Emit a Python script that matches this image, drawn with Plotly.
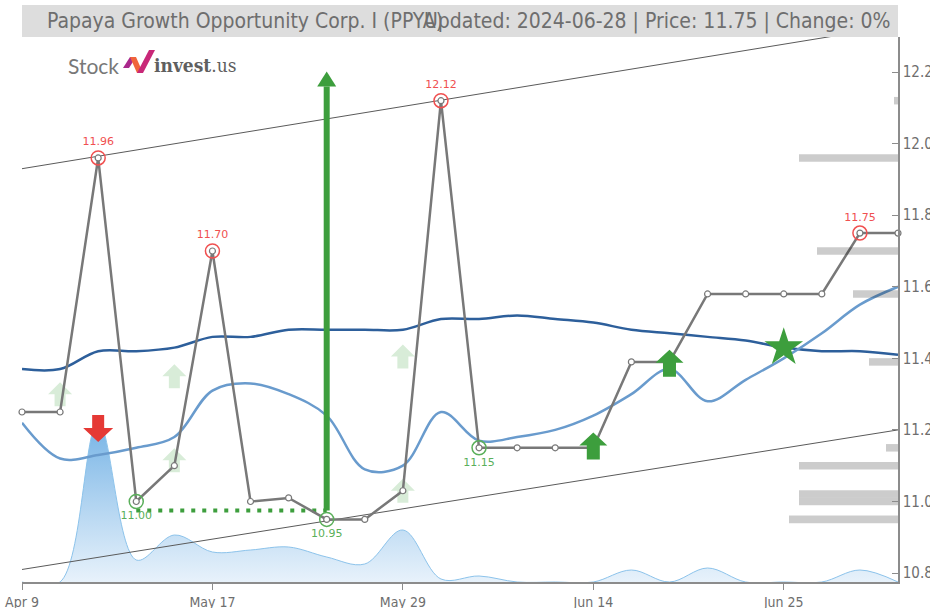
import plotly.graph_objects as go

# ---------------- data ----------------
dates = ["2024-04-09", "2024-04-17", "2024-04-25", "2024-05-03", "2024-05-10", "2024-05-17",
         "2024-05-20", "2024-05-22", "2024-05-24", "2024-05-28", "2024-05-29", "2024-06-03",
         "2024-06-05", "2024-06-07", "2024-06-11", "2024-06-14", "2024-06-17", "2024-06-18",
         "2024-06-20", "2024-06-21", "2024-06-25", "2024-06-26", "2024-06-27", "2024-06-28"]
tick_dates = ["2024-04-09", "2024-05-17", "2024-05-29", "2024-06-14", "2024-06-25"]
tick_labels = ["Apr 9", "May 17", "May 29", "Jun 14", "Jun 25"]

price = [11.25, 11.25, 11.96, 11.00, 11.10, 11.70, 11.00, 11.01, 10.95, 10.95, 11.03, 12.12,
         11.15, 11.15, 11.15, 11.15, 11.39, 11.39, 11.58, 11.58, 11.58, 11.58, 11.75, 11.75]
ma_long = [11.37, 11.37, 11.42, 11.42, 11.43, 11.46, 11.46, 11.48, 11.48, 11.48, 11.48, 11.51,
           11.51, 11.52, 11.51, 11.50, 11.48, 11.47, 11.46, 11.45, 11.43, 11.42, 11.42, 11.41]
ma_short = [11.22, 11.12, 11.13, 11.15, 11.18, 11.31, 11.33, 11.30, 11.24, 11.09, 11.10, 11.25,
            11.17, 11.18, 11.20, 11.24, 11.30, 11.37, 11.28, 11.34, 11.40, 11.47, 11.55, 11.60]
volume = [0, 0, 16000, 2200, 4700, 3000, 3200, 3500, 2500, 1800, 5200, 300,
          600, 0, 0, 0, 1200, 0, 1400, 0, 0, 0, 1200, 0]

high_idx = [2, 5, 11, 22]
low_idx = [3, 8, 12]

trend_upper = [11.93, 12.33]
trend_lower = [10.81, 11.20]

support_level = 10.975
support_span = [3, 8]

signal_idx = 8
signal_from = 10.975
signal_to = 12.16

buy_idx = [15, 17]
buy_val = [11.155, 11.386]
sell_idx = [2]
sell_val = [11.204]
weak_idx = [1, 4, 4, 10, 10]
weak_val = [11.30, 11.35, 11.115, 11.405, 11.03]
star_idx = [20]
star_val = [11.43]

profile_price = [12.12, 11.96, 11.70, 11.58, 11.39, 11.15, 11.10, 11.021, 11.00, 10.95]
profile_vol = [400, 9900, 8100, 4500, 2900, 1200, 9900, 9900, 9900, 10900]

title_left = "Papaya Growth Opportunity Corp. I (PPYA)"
title_right = "Updated: 2024-06-28 | Price: 11.75 | Change: 0%"

# ---------------- style ----------------
W, H = 930, 608
ML, MR, MT, MB = 22, 32, 37, 26
PW, PH = W - ML - MR, H - MT - MB
Y_RANGE = [10.775, 12.298]
NARROW = "Liberation Sans Narrow, Arial Narrow, DejaVu Sans Condensed, sans-serif"
GREEN = "rgb(61,158,61)"
RED = "rgb(229,57,53)"
LBL_GREEN = "rgb(90,175,90)"
LBL_RED = "rgb(240,80,80)"

fig = go.Figure()

# volume area (main subplot, drawn first)
fig.add_trace(go.Scatter(
    x=dates, y=volume, xaxis="x", yaxis="y", mode="lines",
    line=dict(color="rgba(140,195,235,1)", width=1, shape="spline"),
    fill="tozeroy",
    fillgradient=dict(type="vertical",
                      colorscale=[[0, "rgba(232,242,251,0.9)"], [1, "rgba(110,175,228,0.95)"]]),
    hoverinfo="skip"))

# volume-by-price bars
fig.add_trace(go.Bar(
    x=profile_vol, y=profile_price, orientation="h", xaxis="x2", yaxis="y2",
    width=0.021, marker=dict(color="rgba(0,0,0,0.2)", line=dict(width=0)),
    hoverinfo="skip"))

# trend channel
for tl in (trend_upper, trend_lower):
    fig.add_trace(go.Scatter(x=[dates[0], dates[-1]], y=tl, xaxis="x", yaxis="y2",
                             mode="lines", line=dict(color="rgb(90,90,90)", width=1),
                             hoverinfo="skip"))

# moving averages
fig.add_trace(go.Scatter(x=dates, y=ma_long, xaxis="x", yaxis="y2", mode="lines",
                         line=dict(color="rgb(45,95,155)", width=2.5, shape="spline")))
fig.add_trace(go.Scatter(x=dates, y=ma_short, xaxis="x", yaxis="y2", mode="lines",
                         line=dict(color="rgb(105,155,205)", width=2.5, shape="spline")))

# support dotted line
fig.add_trace(go.Scatter(x=[dates[support_span[0]], dates[support_span[1]]],
                         y=[support_level, support_level], xaxis="x", yaxis="y2", mode="lines",
                         line=dict(color=GREEN, width=4, dash="4px,7px")))

# big signal arrow stem
fig.add_trace(go.Scatter(x=[dates[signal_idx], dates[signal_idx]], y=[signal_from, signal_to],
                         xaxis="x", yaxis="y2", mode="lines",
                         line=dict(color=GREEN, width=6)))

# price line
fig.add_trace(go.Scatter(x=dates, y=price, xaxis="x", yaxis="y2", mode="lines+markers",
                         line=dict(color="rgb(120,120,120)", width=2.5),
                         marker=dict(size=6, color="white",
                                     line=dict(color="rgb(120,120,120)", width=1.2)),
                         cliponaxis=False))

# highs / lows
fig.add_trace(go.Scatter(x=[dates[i] for i in high_idx], y=[price[i] for i in high_idx],
                         xaxis="x", yaxis="y2", mode="markers+text",
                         text=[f"{price[i]:.2f}" for i in high_idx], textposition="top center",
                         textfont=dict(family="DejaVu Sans", size=11, color=LBL_RED),
                         marker=dict(symbol="circle-open", size=14,
                                     line=dict(color=LBL_RED, width=1.5), color=LBL_RED),
                         cliponaxis=False))
fig.add_trace(go.Scatter(x=[dates[i] for i in low_idx], y=[price[i] for i in low_idx],
                         xaxis="x", yaxis="y2", mode="markers+text",
                         text=[f"{price[i]:.2f}" for i in low_idx], textposition="bottom center",
                         textfont=dict(family="DejaVu Sans", size=11, color=LBL_GREEN),
                         marker=dict(symbol="circle-open", size=14,
                                     line=dict(color=LBL_GREEN, width=1.5), color=LBL_GREEN),
                         cliponaxis=False))

# star
fig.add_trace(go.Scatter(x=[dates[i] for i in star_idx], y=star_val, xaxis="x", yaxis="y2",
                         mode="markers", marker=dict(symbol="star", size=29, color=GREEN,
                                                     line=dict(width=0))))


def arrow_path(up=True, w=28, h=27, head=13, stem=13):
    s = 1 if up else -1
    hh = h / 2
    pts = [(0, hh), (w / 2, hh - head), (stem / 2, hh - head), (stem / 2, -hh),
           (-stem / 2, -hh), (-stem / 2, hh - head), (-w / 2, hh - head)]
    return "M" + " L".join(f"{x:.1f},{s * y:.1f}" for x, y in pts) + " Z"


shapes = []
for i, v in zip(weak_idx, weak_val):
    shapes.append(dict(type="path", xref="x", yref="y2", xsizemode="pixel", ysizemode="pixel",
                       xanchor=dates[i], yanchor=v, path=arrow_path(True, 24, 24, 12, 11),
                       fillcolor="rgba(61,158,61,0.2)", line=dict(width=0), layer="below"))
for i, v in zip(buy_idx, buy_val):
    shapes.append(dict(type="path", xref="x", yref="y2", xsizemode="pixel", ysizemode="pixel",
                       xanchor=dates[i], yanchor=v, path=arrow_path(True),
                       fillcolor=GREEN, line=dict(width=0), layer="above"))
for i, v in zip(sell_idx, sell_val):
    shapes.append(dict(type="path", xref="x", yref="y2", xsizemode="pixel", ysizemode="pixel",
                       xanchor=dates[i], yanchor=v, path=arrow_path(False, 30, 27, 14, 12),
                       fillcolor=RED, line=dict(width=0), layer="above"))
# head of the big arrow
shapes.append(dict(type="path", xref="x", yref="y2", xsizemode="pixel", ysizemode="pixel",
                   xanchor=dates[signal_idx], yanchor=signal_to, path="M0,15 L9.5,0 L-9.5,0 Z",
                   fillcolor=GREEN, line=dict(width=0), layer="above"))
# title box
shapes.append(dict(type="rect", xref="paper", yref="paper", x0=0, x1=1, y0=1.0, y1=1 + 32 / PH,
                   fillcolor="rgb(221,221,221)", line=dict(width=0), layer="above"))
# logo icon
icon_parts = [
    ("M0,5 L7,16 L13,16 L6,5 Z", "rgb(170,40,140)"),
    ("M7,16 L13,16 L20,0 L14,0 Z", "rgb(240,100,60)"),
    ("M14,0 L20,0 L32,23 L26,23 Z", "rgb(200,40,120)"),
]
for p, c in icon_parts:
    shapes.append(dict(type="path", xref="paper", yref="paper", xsizemode="pixel",
                       ysizemode="pixel", xanchor=(123 - ML) / PW, yanchor=(H - MB - 73) / PH,
                       path=p, fillcolor=c, line=dict(width=0), layer="above"))

annotations = [
    dict(text=title_left, xref="paper", yref="paper", x=(45 - ML) / PW, y=1 + 16 / PH,
         xanchor="left", yanchor="middle", showarrow=False,
         font=dict(family=NARROW, size=21, color="rgb(110,110,110)")),
    dict(text=title_right, xref="paper", yref="paper", x=(892 - ML) / PW, y=1 + 16 / PH,
         xanchor="right", yanchor="middle", showarrow=False,
         font=dict(family=NARROW, size=21, color="rgb(110,110,110)")),
    dict(text="Stock", xref="paper", yref="paper", x=(121 - ML) / PW, y=(H - MB - 65) / PH,
         xanchor="right", yanchor="middle", showarrow=False,
         font=dict(family="Lato, sans-serif", size=21, color="rgb(120,120,120)")),
    dict(text="<b>invest</b>.us", xref="paper", yref="paper", x=(152 - ML) / PW,
         y=(H - MB - 65) / PH, xanchor="left", yanchor="middle", showarrow=False,
         font=dict(family="DejaVu Serif Condensed, DejaVu Serif, serif", size=19,
                   color="rgb(95,95,95)")),
]

fig.update_layout(
    width=W, height=H, margin=dict(l=ML, r=MR, t=MT, b=MB),
    paper_bgcolor="white", plot_bgcolor="white", showlegend=False,
    xaxis=dict(type="category", range=[0, len(dates) - 1], tickmode="array",
               tickvals=tick_dates, ticktext=tick_labels, showgrid=False, zeroline=False,
               showline=True, linecolor="rgb(140,140,140)", linewidth=1.5, ticks="outside",
               ticklen=6, tickcolor="rgb(140,140,140)", automargin=False,
               tickfont=dict(family=NARROW, size=14, color="rgb(110,110,110)")),
    yaxis=dict(range=[0, 54500], visible=False, fixedrange=True),
    yaxis2=dict(overlaying="y", side="right", anchor="x", range=Y_RANGE, tickmode="linear",
                tick0=10.8, dtick=0.2, tickformat=".1f", showgrid=False, zeroline=False,
                showline=True, linecolor="rgb(140,140,140)", linewidth=1.5, ticks="inside",
                ticklen=6, tickcolor="rgb(140,140,140)", automargin=False,
                tickfont=dict(family=NARROW, size=15, color="rgb(110,110,110)")),
    xaxis2=dict(overlaying="x", range=[87600, 0], visible=False, anchor="y2"),
    shapes=shapes, annotations=annotations,
)

fig.write_html("out.html", config={"displayModeBar": False},
               post_script="document.body.style.margin='0px';document.body.style.overflow='hidden';")
